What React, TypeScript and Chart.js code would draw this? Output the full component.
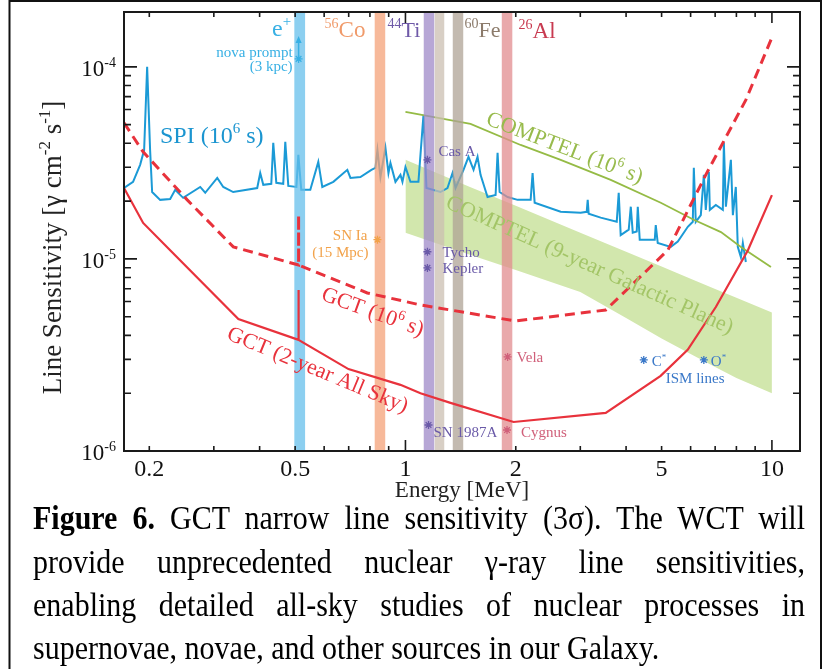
import React, { useEffect, useRef } from "react";
import { Chart, registerables } from "chart.js";
Chart.register(...registerables);

const SERIF = '"Liberation Serif", "Times New Roman", "DejaVu Serif", serif';

// axis ranges
const energyRange = [0.1706, 11.93];
const sensRange = [1e-6, 1.93e-4];

// ticks
const xTickValues = [0.2, 0.3, 0.4, 0.5, 0.6, 0.7, 0.8, 0.9, 1, 2, 3, 4, 5, 6, 7, 8, 9, 10];
const xMajorTicks = [1, 10];
const xTickLabels = ["0.2", "0.5", "1", "2", "5", "10"];
const xTickLabelValues = [0.2, 0.5, 1, 2, 5, 10];
const yTickValues = [
  1e-6, 2e-6, 3e-6, 4e-6, 5e-6, 6e-6, 7e-6, 8e-6, 9e-6,
  1e-5, 2e-5, 3e-5, 4e-5, 5e-5, 6e-5, 7e-5, 8e-5, 9e-5, 1e-4,
];
const yMajorTicks = [1e-6, 1e-5, 1e-4];
const yTickExponents = ["-6", "-5", "-4"];

// SPI (10^6 s)
const spiEnergy = [
  0.1706, 0.1806, 0.1888, 0.1936, 0.1973, 0.201, 0.2036, 0.2141, 0.228, 0.2353, 0.2474, 0.2754,
  0.2842, 0.3065, 0.3183, 0.3388, 0.394, 0.4015, 0.4093, 0.4304, 0.4358, 0.4442, 0.464, 0.47,
  0.479, 0.504, 0.5102, 0.5196, 0.55, 0.5783, 0.593, 0.6356, 0.694, 0.7078, 0.7535, 0.8074,
  0.828, 0.8386, 0.8545, 0.8818, 0.8987, 0.91, 0.9391, 0.969, 0.9813, 1.0, 1.032, 1.085, 1.12,
  1.141, 1.246, 1.302, 1.344, 1.37, 1.44, 1.486, 1.534, 1.573, 1.603, 1.675, 1.762, 1.784, 1.807,
  1.9, 2.023, 2.196, 2.223, 2.252, 2.652, 3.007, 3.123, 3.143, 3.162, 3.41, 3.772, 3.819, 3.867,
  4.067, 4.12, 4.171, 4.277, 4.305, 4.358, 4.79, 4.82, 4.88, 5.297, 5.536, 5.895, 6.083, 6.122,
  6.198, 6.397, 6.52, 6.6, 6.729, 6.77, 7.03, 7.346, 7.394, 7.488, 7.727, 7.825, 7.97, 8.07, 8.23,
  8.33, 8.49,
];
const spiSensitivity = [
  23.4e-6, 25.2e-6, 30.9e-6, 36.9e-6, 100e-6, 36.9e-6, 22.3e-6, 20.3e-6, 20.5e-6, 22.9e-6, 20.8e-6, 23.7e-6,
  22.1e-6, 26.4e-6, 23.7e-6, 22.3e-6, 23.4e-6, 28.0e-6, 24.3e-6, 24.6e-6, 40.2e-6, 24.9e-6, 24.6e-6, 40.7e-6,
  24.0e-6, 23.7e-6, 34.8e-6, 22.9e-6, 22.9e-6, 32.0e-6, 23.7e-6, 25.2e-6, 29.1e-6, 26.4e-6, 26.7e-6, 29.1e-6,
  29.8e-6, 36.9e-6, 26.7e-6, 37.9e-6, 28.0e-6, 31.6e-6, 25.2e-6, 27.4e-6, 25.2e-6, 30.1e-6, 25.2e-6, 25.2e-6, 56.2e-6,
  23.4e-6, 22.3e-6, 23.4e-6, 28.0e-6, 23.4e-6, 29.1e-6, 34.0e-6, 29.1e-6, 34.0e-6, 27.4e-6, 21.0e-6, 21.5e-6, 35.7e-6, 22.3e-6,
  21.0e-6, 20.3e-6, 20.3e-6, 28.0e-6, 19.6e-6, 17.6e-6, 17.4e-6, 17.6e-6, 20.3e-6, 17.2e-6, 16.4e-6, 15.6e-6, 22.1e-6, 13.3e-6,
  14.2e-6, 18.7e-6, 13.7e-6, 13.9e-6, 18.7e-6, 12.6e-6, 12.6e-6, 15.0e-6, 12.1e-6, 11.55e-6, 12.3e-6, 14.7e-6, 15.6e-6, 29.8e-6,
  15.6e-6, 16.9e-6, 27.4e-6, 18.0e-6, 28.4e-6, 18.0e-6, 19.1e-6, 18.0e-6, 40.2e-6, 18.7e-6, 32.8e-6, 16.9e-6, 23.7e-6, 11.55e-6, 10.2e-6,
  12.1e-6, 9.64e-6,
];

// COMPTEL (10^6 s)
const comptelEnergy = [1.0, 1.505, 2.062, 2.652, 3.632, 4.974, 6.12, 7.26, 8.23, 9.94];
const comptelSensitivity = [58.3e-6, 50.5e-6, 39.2e-6, 32.8e-6, 25.8e-6, 19.6e-6, 16.0e-6, 13.8e-6, 11.55e-6, 9.09e-6];

// COMPTEL (9-year Galactic Plane) band
const planeEnergy = [1, 1.5, 2, 3, 4, 5, 6, 7, 8, 10];
const planeUpper = [32.8e-6, 23.7e-6, 18.9e-6, 13.7e-6, 10.9e-6, 9.12e-6, 7.88e-6, 6.98e-6, 6.28e-6, 5.26e-6];
const planeLower = [13.7e-6, 10.5e-6, 8.76e-6, 6.73e-6, 4.93e-6, 3.85e-6, 3.2e-6, 2.74e-6, 2.4e-6, 2.0e-6];

// GCT (2-year All Sky)
const gctSkyEnergy = [0.1706, 0.1924, 0.228, 0.35, 0.511, 0.511, 0.511, 0.699, 0.969, 1.099, 1.327, 1.973, 3.52, 4.97, 5.89, 7.03, 8.6, 10.0];
const gctSkySensitivity = [23.4e-6, 15.4e-6, 11.1e-6, 4.87e-6, 3.79e-6, 6.9e-6, 3.79e-6, 2.67e-6, 2.21e-6, 2.0e-6, 1.78e-6, 1.416e-6, 1.58e-6, 2.46e-6, 3.36e-6, 5.62e-6, 11.1e-6, 21.5e-6];

// GCT (10^6 s)
const gctPointEnergy = [0.1706, 0.1924, 0.2538, 0.339, 0.511, 0.511, 0.511, 0.787, 1.099, 1.998, 3.52, 5.2, 6.6, 8.49, 10.0];
const gctPointSensitivity = [51.1e-6, 36.1e-6, 20.3e-6, 11.55e-6, 9.3e-6, 16.9e-6, 9.3e-6, 6.65e-6, 5.76e-6, 4.75e-6, 5.42e-6, 11.1e-6, 27.4e-6, 67.3e-6, 142e-6];

// nuclear line bands
const bandNames = ["e+", "56Co", "44Ti", "60Fe a", "60Fe b", "26Al"];
const bandLow = [0.497, 0.823, 1.12, 1.2, 1.344, 1.829];
const bandHigh = [0.533, 0.882, 1.2, 1.278, 1.44, 1.96];
const bandColors = [
  "rgba(102,191,235,0.75)",
  "rgba(244,162,120,0.75)",
  "rgba(159,138,200,0.75)",
  "rgba(203,191,178,0.75)",
  "rgba(175,163,150,0.75)",
  "rgba(226,140,143,0.75)",
];

// source markers
const sourceNames = ["nova prompt", "SN Ia", "Cas A", "Tycho", "Kepler", "Vela", "SN 1987A", "Cygnus", "C*", "O*"];
const sourceEnergy = [0.511, 0.8386, 1.148, 1.148, 1.148, 1.9, 1.156, 1.893, 4.47, 6.52];
const sourceSensitivity = [1.1e-4, 12.6e-6, 32.8e-6, 10.9e-6, 8.98e-6, 3.09e-6, 1.366e-6, 1.286e-6, 2.98e-6, 2.98e-6];
const sourceColors = ["#38b0e4", "#f2a24a", "#6a5aa8", "#6a5aa8", "#6a5aa8", "#d0607a", "#6a5aa8", "#d0607a", "#3a78c8", "#3a78c8"];

const RED = "#e8323c";

const pts = (xs: number[], ys: number[]) => xs.map((x, i) => ({ x, y: ys[i] }));

type Part = [string, number];

function drawRich(ctx: CanvasRenderingContext2D, parts: Part[], x: number, y: number, size: number, color: string, align: "left" | "right" | "center", bold = false) {
  ctx.save();
  ctx.fillStyle = color;
  ctx.textBaseline = "alphabetic";
  ctx.textAlign = "left";
  const fontFor = (k: number) => `${bold ? "bold " : ""}${k ? Math.round(size * 0.62) : size}px ${SERIF}`;
  const widths = parts.map(([t, k]) => {
    ctx.font = fontFor(k);
    return ctx.measureText(t).width;
  });
  const total = widths.reduce((a, b) => a + b, 0);
  let cx = align === "left" ? x : align === "right" ? x - total : x - total / 2;
  parts.forEach(([t, k], i) => {
    ctx.font = fontFor(k);
    ctx.fillText(t, cx, k ? y - size * 0.4 : y);
    cx += widths[i];
  });
  ctx.restore();
}

function drawRotated(ctx: CanvasRenderingContext2D, parts: Part[], cx: number, cy: number, deg: number, size: number, color: string) {
  ctx.save();
  ctx.translate(cx, cy);
  ctx.rotate((deg * Math.PI) / 180);
  drawRich(ctx, parts, 0, size * 0.33, size, color, "center");
  ctx.restore();
}

const overlayPlugin = {
  id: "overlay",
  afterDatasetsDraw(chart: any) {
    const { ctx, chartArea: a } = chart;
    const X = (v: number) => chart.scales.x.getPixelForValue(v);
    const Y = (v: number) => chart.scales.y.getPixelForValue(v);
    ctx.save();

    // curve labels
    drawRich(ctx, [["SPI (10", 0], ["6", 1], [" s)", 0]], 160, 143, 24, "#1b95d0", "left");
    drawRotated(ctx, [["COMPTEL (10", 0], ["6", 1], [" s)", 0]], 565, 147, 21, 22, "#98bb4c");
    drawRotated(ctx, [["COMPTEL (9-year Galactic Plane)", 0]], 590, 264, 24, 22, "#a3c567");
    drawRotated(ctx, [["GCT (10", 0], ["6", 1], [" s)", 0]], 373, 311, 20, 22, RED);
    drawRotated(ctx, [["GCT (2-year All Sky)", 0]], 318, 369, 22.5, 22, RED);

    // isotope labels above the bands
    drawRich(ctx, [["e", 0], ["+", 1]], X(bandLow[0]) - 3, 36, 24, "#38b0e4", "right");
    drawRich(ctx, [["56", 1], ["Co", 0]], X(bandLow[1]) - 9, 37, 23, "#f09a6a", "right");
    drawRich(ctx, [["44", 1], ["Ti", 0]], X(bandHigh[1]) + 2, 37, 22, "#6f5aa8", "left");
    drawRich(ctx, [["60", 1], ["Fe", 0]], X(bandHigh[4]) + 1, 37, 22, "#8c7b6b", "left");
    drawRich(ctx, [["26", 1], ["Al", 0]], X(bandHigh[5]) + 6, 38, 23, "#c83a50", "left");

    // source labels, anchored to their markers
    const P = (i: number) => ({ x: X(sourceEnergy[i]), y: Y(sourceSensitivity[i]) });
    let p = P(0);
    drawRich(ctx, [["nova prompt", 0]], p.x - 6, p.y - 2, 15, "#38b0e4", "right");
    drawRich(ctx, [["(3 kpc)", 0]], p.x - 6, p.y + 12, 15, "#38b0e4", "right");
    ctx.strokeStyle = "#38b0e4";
    ctx.fillStyle = "#38b0e4";
    ctx.lineWidth = 1.5;
    ctx.beginPath();
    ctx.moveTo(p.x, p.y);
    ctx.lineTo(p.x, p.y - 18);
    ctx.stroke();
    ctx.beginPath();
    ctx.moveTo(p.x - 3, p.y - 16);
    ctx.lineTo(p.x, p.y - 23);
    ctx.lineTo(p.x + 3, p.y - 16);
    ctx.closePath();
    ctx.fill();
    p = P(1);
    drawRich(ctx, [["SN Ia", 0]], p.x - 10, p.y, 15, "#f2a24a", "right");
    drawRich(ctx, [["(15 Mpc)", 0]], p.x - 9, p.y + 17, 15, "#f2a24a", "right");
    p = P(2);
    drawRich(ctx, [["Cas A", 0]], p.x + 11, p.y - 4, 15, "#6a5aa8", "left");
    p = P(3);
    drawRich(ctx, [["Tycho", 0]], p.x + 15, p.y + 5, 15, "#6a5aa8", "left");
    p = P(4);
    drawRich(ctx, [["Kepler", 0]], p.x + 15, p.y + 5, 15, "#6a5aa8", "left");
    p = P(5);
    drawRich(ctx, [["Vela", 0]], p.x + 9, p.y + 5, 15, "#d0607a", "left");
    p = P(6);
    drawRich(ctx, [["SN 1987A", 0]], p.x + 5, p.y + 12, 15, "#6a5aa8", "left");
    p = P(7);
    drawRich(ctx, [["Cygnus", 0]], p.x + 14, p.y + 7, 15, "#d0607a", "left");
    p = P(8);
    drawRich(ctx, [["C", 0], ["*", 1]], p.x + 8, p.y + 6, 15, "#3a78c8", "left");
    drawRich(ctx, [["ISM lines", 0]], p.x + 22, p.y + 23, 15, "#3a78c8", "left");
    p = P(9);
    drawRich(ctx, [["O", 0], ["*", 1]], p.x + 7, p.y + 6, 15, "#3a78c8", "left");

    // frame and inward ticks
    ctx.strokeStyle = "#1a1a1a";
    ctx.lineWidth = 2;
    ctx.strokeRect(a.left, a.top, a.right - a.left, a.bottom - a.top);
    ctx.lineWidth = 1.6;
    ctx.beginPath();
    xTickValues.forEach((v) => {
      const px = X(v);
      const len = xMajorTicks.includes(v) ? 11 : 5;
      ctx.moveTo(px, a.bottom);
      ctx.lineTo(px, a.bottom - len);
      ctx.moveTo(px, a.top);
      ctx.lineTo(px, a.top + len);
    });
    yTickValues.forEach((v) => {
      const py = Y(v);
      const len = yMajorTicks.includes(v) ? 13 : 7;
      ctx.moveTo(a.left, py);
      ctx.lineTo(a.left + len, py);
      ctx.moveTo(a.right, py);
      ctx.lineTo(a.right - len, py);
    });
    ctx.stroke();

    // tick labels
    xTickLabelValues.forEach((v, i) => {
      drawRich(ctx, [[xTickLabels[i], 0]], X(v), a.bottom + 25, 24, "#111", "center");
    });
    yMajorTicks.forEach((v, i) => {
      drawRich(ctx, [["10", 0], [yTickExponents[i], 1]], a.left - 8, Y(v) + 9, 23, "#111", "right");
    });

    // axis titles
    drawRich(ctx, [["Energy [MeV]", 0]], (a.left + a.right) / 2, a.bottom + 46, 23, "#222", "center");
    ctx.save();
    ctx.translate(52, (a.top + a.bottom) / 2 + 16);
    ctx.rotate(-Math.PI / 2);
    drawRich(ctx, [["Line Sensitivity [\u03b3 cm", 0], ["-2", 1], [" s", 0], ["-1", 1], ["]", 0]], 0, 9, 27, "#222", "center");
    ctx.restore();

    ctx.restore();
  },
  afterDraw(chart: any) {
    const ctx = chart.ctx;
    ctx.save();
    ctx.strokeStyle = "#111";
    ctx.lineWidth = 2;
    ctx.beginPath();
    ctx.moveTo(9.5, 700);
    ctx.lineTo(9.5, 1);
    ctx.lineTo(821, 1);
    ctx.lineTo(821, 700);
    ctx.stroke();
    ctx.restore();
  },
};

export default function App() {
  const ref = useRef<HTMLCanvasElement>(null);
  useEffect(() => {
    const datasets: any[] = [
      {
        label: "COMPTEL (9-year Galactic Plane) upper",
        data: pts(planeEnergy, planeUpper),
        borderWidth: 0,
        backgroundColor: "#d2e7ad",
        fill: 1,
        order: 20,
      },
      {
        label: "COMPTEL (9-year Galactic Plane) lower",
        data: pts(planeEnergy, planeLower),
        borderWidth: 0,
        fill: false,
        order: 19,
      },
      {
        label: "SPI (10^6 s)",
        data: pts(spiEnergy, spiSensitivity),
        borderColor: "#1b9ad6",
        borderWidth: 2,
        fill: false,
        order: 15,
      },
      {
        label: "COMPTEL (10^6 s)",
        data: pts(comptelEnergy, comptelSensitivity),
        borderColor: "#95bb45",
        borderWidth: 1.8,
        fill: false,
        order: 14,
      },
      ...bandNames.map((n, i) => ({
        label: n,
        data: [
          { x: bandLow[i], y: sensRange[1] },
          { x: bandHigh[i], y: sensRange[1] },
        ],
        borderWidth: 0,
        backgroundColor: bandColors[i],
        fill: "start",
        order: 10,
      })),
      {
        label: "GCT (10^6 s)",
        data: pts(gctPointEnergy, gctPointSensitivity),
        borderColor: RED,
        borderWidth: 3,
        borderDash: [10, 6],
        fill: false,
        order: 5,
      },
      {
        label: "GCT (2-year All Sky)",
        data: pts(gctSkyEnergy, gctSkySensitivity),
        borderColor: RED,
        borderWidth: 2.2,
        fill: false,
        order: 4,
      },
      {
        label: "sources",
        data: pts(sourceEnergy, sourceSensitivity),
        showLine: false,
        pointRadius: 4,
        pointStyle: "star",
        pointBorderColor: sourceColors,
        pointBorderWidth: 1.3,
        order: 1,
      },
    ];
    const chart = new Chart(ref.current as HTMLCanvasElement, {
      type: "line",
      data: { datasets },
      options: {
        responsive: false,
        devicePixelRatio: 1,
        animation: false,
        layout: { padding: { left: 124, top: 12, right: 25, bottom: 218 } },
        elements: { line: { tension: 0 }, point: { radius: 0, hoverRadius: 0 } },
        plugins: { legend: { display: false }, tooltip: { enabled: false } },
        events: [],
        scales: {
          x: { type: "logarithmic", min: energyRange[0], max: energyRange[1], display: false },
          y: { type: "logarithmic", min: sensRange[0], max: sensRange[1], display: false },
        },
      },
      plugins: [overlayPlugin],
    } as any);
    return () => chart.destroy();
  }, []);

  const lineStyle: React.CSSProperties = {
    textAlign: "justify",
    textAlignLast: "justify" as any,
    height: 38.5,
    lineHeight: "38.5px",
  };
  return (
    <div style={{ position: "absolute", left: 0, top: 0, width: 825, height: 669, overflow: "hidden", background: "#fff" }}>
      <canvas ref={ref} width={825} height={669} style={{ position: "absolute", left: 0, top: 0, width: 825, height: 669 }} />
      <div style={{ position: "absolute", left: 33, top: 497, width: 772, fontFamily: SERIF, fontSize: 30, color: "#000", transform: "scaleY(1.12)", transformOrigin: "0 0" }}>
        <div style={lineStyle}>
          <b>Figure 6.</b> GCT narrow line sensitivity (3σ). The WCT will
        </div>
        <div style={lineStyle}>provide unprecedented nuclear γ-ray line sensitivities,</div>
        <div style={lineStyle}>enabling detailed all-sky studies of nuclear processes in</div>
        <div style={{ ...lineStyle, textAlignLast: "left" as any, whiteSpace: "nowrap" }}>supernovae, novae, and other sources in our Galaxy.</div>
      </div>
    </div>
  );
}
